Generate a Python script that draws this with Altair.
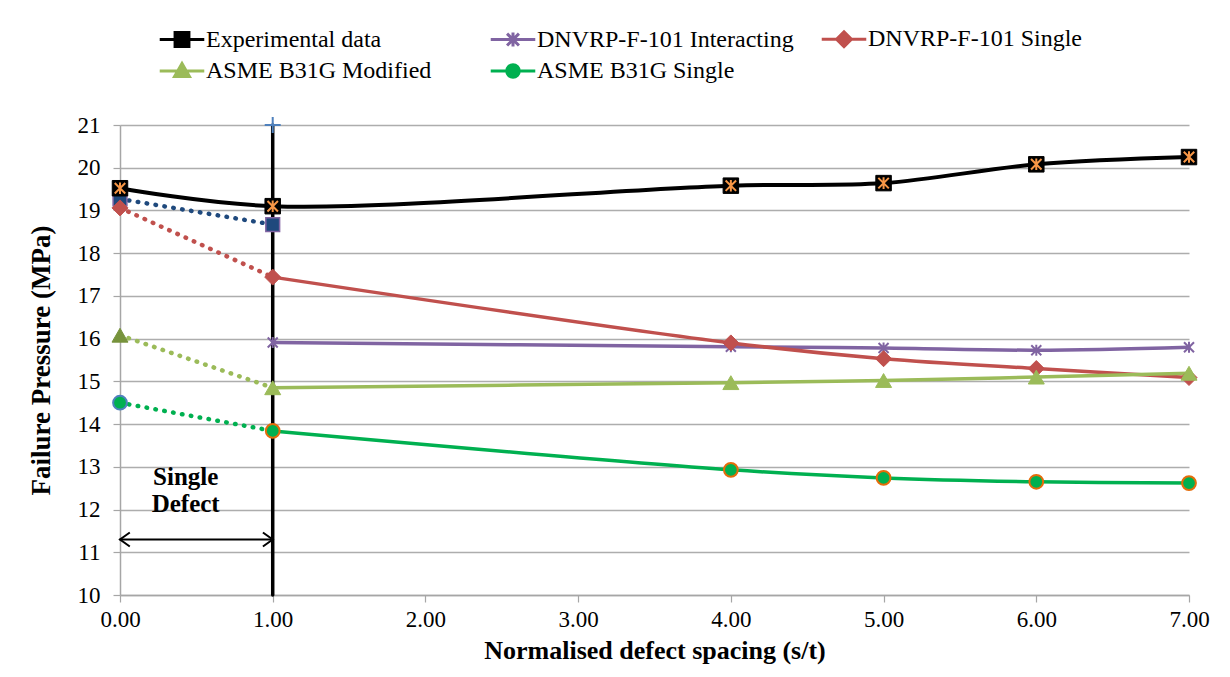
import altair as alt
import pandas as pd

# ---------------- data ----------------
SERIES = ["Experimental data", "DNVRP-F-101 Interacting", "DNVRP-F-101 Single",
          "ASME B31G Modified", "ASME B31G Single"]

exp_x = [0, 1, 4, 5, 6, 7]
exp_y = [19.52, 19.10, 19.58, 19.64, 20.08, 20.25]

multi_x = [1, 4, 5, 6, 7]
dnv_int_y = [15.91, 15.81, 15.78, 15.73, 15.80]
dnv_single_y = [17.44, 15.90, 15.53, 15.30, 15.09]
asme_mod_y = [14.85, 14.97, 15.02, 15.10, 15.19]
asme_single_y = [13.84, 12.93, 12.74, 12.65, 12.62]

single_x = [0, 1]
dnv_int_single_y = [19.27, 18.67]
dnv_single_single_y = [19.06, 17.44]
asme_mod_single_y = [16.08, 14.85]
asme_single_single_y = [14.50, 13.84]

divider_x = [1, 1]
divider_y = [10, 21]
arrow_x = [0, 1]
arrow_y = [11.3, 11.3]
note_text = ["Single", "Defect"]
note_x = [0.43, 0.43]
note_y = [12.77, 12.14]

x_ticks = [0, 1, 2, 3, 4, 5, 6, 7]
y_ticks = list(range(10, 22))

# ---------------- style ----------------
FONT = "Liberation Serif"
BLACK = "#000000"
ORANGE = "#F79646"
PURPLE = "#8064A2"
RED = "#C0504D"
LGREEN = "#9BBB59"
OLIVE = "#77933C"
GREEN = "#00B050"
NAVY = "#1F497D"
BLUE = "#4F81BD"
GRAY = "#A6A6A6"

STAR = "M-1,-1L1,1M-1,1L1,-1M0,-1.1V1.1"
PLUS = "M-1,0H1M0,-1V1"
LEFT_HEAD = "M1.4,-1L0,0L1.4,1"
RIGHT_HEAD = "M-1.4,-1L0,0L-1.4,1"

xs = alt.Scale(domain=[0, 7], nice=False, zero=False)
ys = alt.Scale(domain=[10, 21], nice=False, zero=False)
x_axis = alt.Axis(values=x_ticks, format=".2f", grid=False, title="Normalised defect spacing (s/t)",
                  tickSize=7, labelPadding=6, titlePadding=6, labelFlush=False,
                  labelFont=FONT, labelFontSize=23, titleFont=FONT, titleFontSize=26,
                  titleFontWeight="bold", domainColor=GRAY, domainWidth=1.5, tickColor=GRAY, tickWidth=1.2)
y_axis = alt.Axis(values=y_ticks, grid=True, title="Failure Pressure (MPa)", tickSize=7,
                  labelPadding=13, titlePadding=22, labelFlush=False,
                  labelFont=FONT, labelFontSize=23, titleFont=FONT, titleFontSize=27,
                  titleFontWeight="bold", domainColor=GRAY, domainWidth=1.5, tickColor=GRAY, tickWidth=1.2,
                  gridColor="#ADADAD", gridWidth=1.3)


def frame(xv, yv):
    return pd.DataFrame({"x": xv, "y": yv})


def enc(base, with_axis=False):
    if with_axis:
        return base.encode(x=alt.X("x:Q", scale=xs, axis=x_axis),
                           y=alt.Y("y:Q", scale=ys, axis=y_axis))
    return base.encode(x=alt.X("x:Q", scale=xs),
                       y=alt.Y("y:Q", scale=ys))


def line(df, color, width, dotted=False, smooth=True, with_axis=False):
    kw = dict(color=color, strokeWidth=width, strokeCap="round", strokeJoin="round")
    if dotted:
        kw["strokeDash"] = [0.5, 8.5]
    if smooth:
        kw["interpolate"] = "catmull-rom"
    return enc(alt.Chart(df).mark_line(**kw), with_axis)


def points(df, shape, size, fill=None, stroke=None, sw=1.0):
    kw = dict(shape=shape, size=size, strokeWidth=sw, opacity=1)
    if fill is not None:
        kw["filled"] = True
        kw["fill"] = fill
    else:
        kw["filled"] = False
        kw["fill"] = "transparent"
    if stroke is not None:
        kw["stroke"] = stroke
    return enc(alt.Chart(df).mark_point(**kw))


exp_df = frame(exp_x, exp_y)
dnv_int_df = frame(multi_x, dnv_int_y)
dnv_single_df = frame(multi_x, dnv_single_y)
asme_mod_df = frame(multi_x, asme_mod_y)
asme_single_df = frame(multi_x, asme_single_y)

layers = [
    # divider (this layer carries the axes) and single-defect annotation
    line(frame(divider_x, divider_y), BLACK, 3.5, smooth=False, with_axis=True),
    points(frame(divider_x[1:], divider_y[1:]), PLUS, 256, stroke=BLUE, sw=2),
    line(frame(arrow_x, arrow_y), BLACK, 2, smooth=False),
    points(frame(arrow_x[:1], arrow_y[:1]), LEFT_HEAD, 196, stroke=BLACK, sw=2),
    points(frame(arrow_x[1:], arrow_y[1:]), RIGHT_HEAD, 196, stroke=BLACK, sw=2),
    enc(alt.Chart(pd.DataFrame({"x": note_x, "y": note_y, "t": note_text})).mark_text(
        font=FONT, fontSize=25, fontWeight="bold", color=BLACK, align="center", baseline="middle"
    )).encode(text="t:N"),
    # dotted single-defect segments
    line(frame(single_x, dnv_int_single_y), NAVY, 4.5, dotted=True, smooth=False),
    line(frame(single_x, dnv_single_single_y), RED, 4.5, dotted=True, smooth=False),
    line(frame(single_x, asme_mod_single_y), LGREEN, 4.5, dotted=True, smooth=False),
    line(frame(single_x, asme_single_single_y), GREEN, 4.5, dotted=True, smooth=False),
    # solid series lines
    line(exp_df, BLACK, 4),
    line(dnv_int_df, PURPLE, 3.5),
    line(dnv_single_df, RED, 3.5),
    line(asme_mod_df, LGREEN, 3.5),
    line(asme_single_df, GREEN, 3.5),
    # markers at x = 0 and x = 1 (single-defect series)
    points(frame(single_x, dnv_int_single_y), "square", 190, fill=NAVY, stroke=PURPLE, sw=1.5),
    points(frame(single_x[:1], dnv_single_single_y[:1]), "diamond", 256, fill=RED, stroke=RED, sw=1),
    points(frame(single_x[:1], asme_mod_single_y[:1]), "triangle-up", 256, fill=OLIVE, stroke=OLIVE, sw=1),
    points(frame(single_x[:1], asme_single_single_y[:1]), "circle", 190, fill=GREEN, stroke=BLUE, sw=2),
    # series markers
    points(exp_df, "square", 240, fill=BLACK, stroke=BLACK, sw=1),
    points(exp_df, STAR, 110, stroke=ORANGE, sw=2),
    points(dnv_int_df, STAR, 100, stroke=PURPLE, sw=2),
    points(dnv_single_df, "diamond", 256, fill=RED, stroke=RED, sw=1),
    points(asme_mod_df, "triangle-up", 256, fill=LGREEN, stroke=LGREEN, sw=1),
    points(asme_single_df, "circle", 190, fill=GREEN, stroke="#E46C0A", sw=2),
]

# ---------------- legend (invisible layer carrying the legend) ----------------
LEG_LINE = "M-1.35,0H1.35"
legend_shapes = [
    LEG_LINE + "M-0.42,-0.42H0.42V0.42H-0.42Z",
    LEG_LINE + "M-0.36,-0.36L0.36,0.36M-0.36,0.36L0.36,-0.36M0,-0.42V0.42",
    LEG_LINE + "M0,-0.45L0.45,0L0,0.45L-0.45,0Z",
    LEG_LINE + "M0,-0.45L0.45,0.33L-0.45,0.33Z",
    LEG_LINE + "M-0.38,0A0.38,0.38 0 1,0 0.38,0A0.38,0.38 0 1,0 -0.38,0Z",
]
legend_fill = [BLACK, PURPLE, RED, LGREEN, GREEN]
legend_stroke = [BLACK, PURPLE, RED, LGREEN, GREEN]

leg = alt.Legend(title=None, orient="none", legendX=44, legendY=-104, columns=3, direction="horizontal",
                 gridAlign="all", columnPadding=21, rowPadding=0, symbolSize=1089,
                 symbolStrokeWidth=3, symbolOpacity=1, labelFont=FONT, labelFontSize=24,
                 labelLimit=500, labelOffset=6)

legend_df = pd.DataFrame({"series": SERIES, "x": [exp_x[0], multi_x[0], multi_x[0], multi_x[0], multi_x[0]],
                          "y": [exp_y[0], dnv_int_y[0], dnv_single_y[0], asme_mod_y[0], asme_single_y[0]]})
legend_layer = alt.Chart(legend_df).mark_point(filled=True, opacity=0).encode(
    x=alt.X("x:Q", scale=xs),
    y=alt.Y("y:Q", scale=ys),
    shape=alt.Shape("series:N", scale=alt.Scale(domain=SERIES, range=legend_shapes), legend=leg),
    fill=alt.Fill("series:N", scale=alt.Scale(domain=SERIES, range=legend_fill), legend=leg),
    stroke=alt.Stroke("series:N", scale=alt.Scale(domain=SERIES, range=legend_stroke), legend=leg),
)

chart = alt.LayerChart(layer=[*layers, legend_layer], view=alt.ViewBackground(stroke=None)).properties(
    width=1069, height=470,
    padding={"left": 19, "top": 13, "right": 5, "bottom": 5},
)

chart.save("out.html", embed_options={"renderer": "svg", "actions": False})
